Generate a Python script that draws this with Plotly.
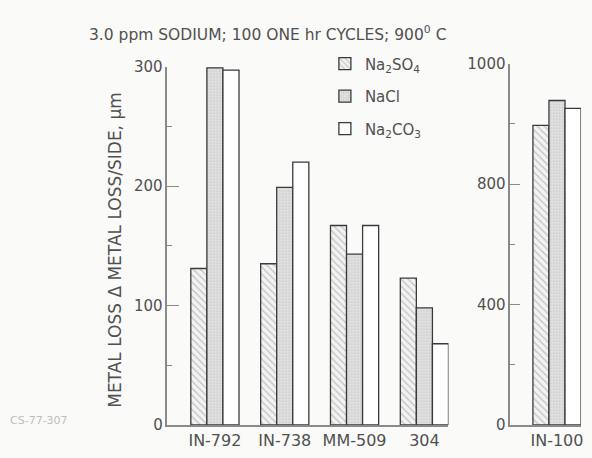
import plotly.graph_objects as go

# ---- data ----
alloys = ["IN-792", "IN-738", "MM-509", "304"]
na2so4 = [131, 135, 167, 123]
nacl = [299, 199, 143, 98]
na2co3 = [297, 220, 167, 68]

in100 = ["IN-100"]
in100_na2so4 = [995]
in100_nacl = [1078]
in100_na2co3 = [1052]

left_tickvals = [0, 100, 200, 300]
right_tickvals = [0, 400, 800, 1200]
right_ticktext = ["0", "400", "800", "1000"]

series_names = ["Na<sub>2</sub>SO<sub>4</sub>", "NaCl", "Na<sub>2</sub>CO<sub>3</sub>"]

FONT = "DejaVu Sans, Liberation Sans, sans-serif"
TXT = "#505050"
AX = "#8a8a8a"
OUT = "#3a3a3a"

styles = [
    dict(color="#f2f2f2", pattern=dict(shape="\\", fgcolor="#8f8f8f", bgcolor="#f2f2f2", size=5, solidity=0.25)),
    dict(color="#e0e0e0", pattern=dict(shape=".", fgcolor="#a8a8a8", bgcolor="#e4e4e4", size=3, solidity=0.28)),
    dict(color="#ffffff"),
]

fig = go.Figure()
left_data = [na2so4, nacl, na2co3]
right_data = [in100_na2so4, in100_nacl, in100_na2co3]
for i in range(3):
    fig.add_trace(go.Bar(
        x=alloys, y=left_data[i], name=series_names[i],
        marker=dict(**styles[i], line=dict(color=OUT, width=1.3)),
        xaxis="x", yaxis="y", legendgroup=str(i), showlegend=True,
    ))
for i in range(3):
    fig.add_trace(go.Bar(
        x=in100, y=right_data[i], name=series_names[i],
        marker=dict(**styles[i], line=dict(color=OUT, width=1.3)),
        xaxis="x2", yaxis="y2", legendgroup=str(i), showlegend=False,
    ))

W, H = 592, 458
def px_x(v):
    return v / W
def px_y(v):
    return (H - v) / H

bargap = 0.31
half = (1 - bargap) / 2

fig.update_layout(
    width=W, height=H,
    margin=dict(l=0, r=0, t=0, b=0),
    paper_bgcolor="#fafaf8", plot_bgcolor="rgba(0,0,0,0)",
    font=dict(family=FONT, color=TXT, size=15),
    barmode="group", bargap=bargap, bargroupgap=0,
    showlegend=True,
    legend=dict(
        x=px_x(326), y=px_y(40), xanchor="left", yanchor="top",
        bgcolor="rgba(0,0,0,0)", font=dict(size=15, color=TXT),
        tracegroupgap=10, itemwidth=30,
    ),
    xaxis=dict(
        domain=[px_x(168), px_x(450)], range=[-0.68, 3 + half],
        showline=True, linecolor=AX, linewidth=1.5, ticks="",
        showgrid=False, zeroline=False, anchor="y",
        tickfont=dict(size=16, color=TXT),
    ),
    yaxis=dict(
        domain=[px_y(433), px_y(60)], range=[0, 300],
        tickvals=left_tickvals, ticks="inside", ticklen=12, tickcolor=AX, tickwidth=1.3,
        minor=dict(dtick=50, tick0=0, ticks="inside", ticklen=5, tickcolor=AX, tickwidth=1.3),
        showline=True, linecolor=AX, linewidth=1.5, showgrid=False, zeroline=False,
        anchor="x", tickfont=dict(size=15, color=TXT),
    ),
    xaxis2=dict(
        domain=[px_x(512), px_x(583)], range=[-0.67, half],
        showline=True, linecolor=AX, linewidth=1.5, ticks="",
        showgrid=False, zeroline=False, anchor="y2",
        tickfont=dict(size=16, color=TXT),
    ),
    yaxis2=dict(
        domain=[px_y(433), px_y(57)], range=[0, 1200],
        tickvals=right_tickvals, ticktext=right_ticktext,
        ticks="inside", ticklen=10, tickcolor=AX, tickwidth=1.3,
        minor=dict(tickvals=[200, 600, 1000], ticks="inside", ticklen=5, tickcolor=AX, tickwidth=1.3),
        showline=True, linecolor=AX, linewidth=1.5, showgrid=False, zeroline=False,
        anchor="x2", tickfont=dict(size=15, color=TXT),
    ),
    annotations=[
        dict(text="3.0 ppm SODIUM; 100 ONE hr CYCLES; 900<sup>0</sup> C",
             x=px_x(269), y=px_y(25), xref="paper", yref="paper", yanchor="middle",
             showarrow=False, font=dict(size=15.5, color=TXT)),
        dict(text="METAL LOSS \u0394 METAL LOSS/SIDE, \u03bcm",
             x=px_x(103), y=px_y(251), xref="paper", yref="paper",
             textangle=-90, showarrow=False, font=dict(size=17, color=TXT)),
        dict(text="CS-77-307", x=px_x(8), y=px_y(437), xref="paper", yref="paper",
             xanchor="left", showarrow=False, font=dict(size=11, color="#bdbdbd")),
    ],
)

fig.write_html(
    "out.html",
    config={"displayModeBar": False},
    post_script="document.body.style.margin='0';document.body.style.overflow='hidden';",
)
